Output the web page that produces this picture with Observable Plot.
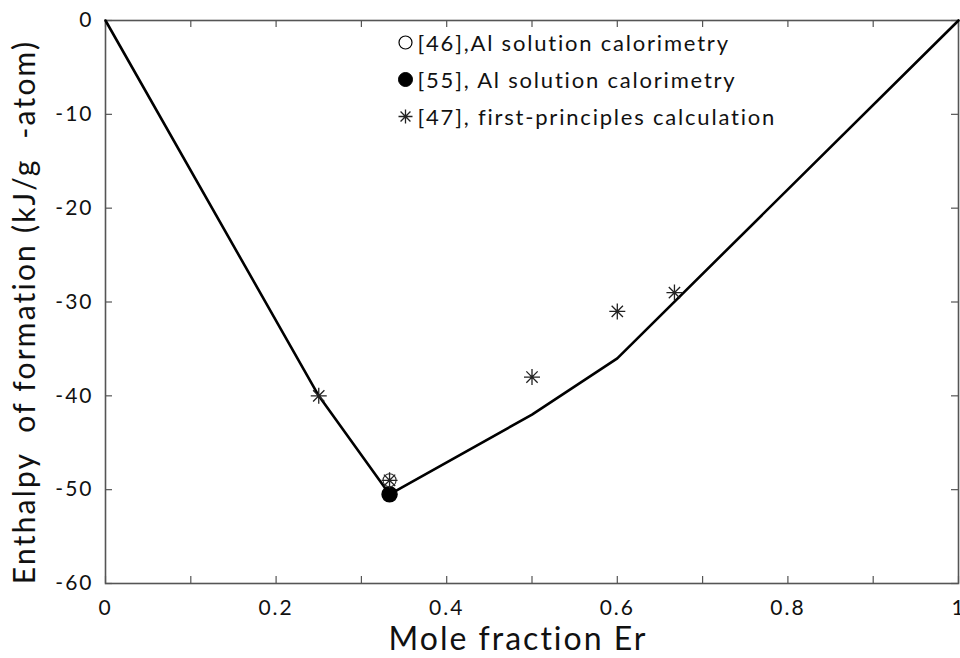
<!DOCTYPE html>
<html>
<head>
<meta charset="utf-8">
<script src="https://cdn.jsdelivr.net/npm/d3@7"></script>
<script src="https://cdn.jsdelivr.net/npm/@observablehq/plot@0.6"></script>
<style>
  html, body { margin: 0; padding: 0; background: #fff; }
  #chart { width: 960px; height: 658px; overflow: hidden; }
  #chart svg text { letter-spacing: 2px; }
</style>
</head>
<body>
<div id="chart"></div>
<script>
// ---- data ----
const xTicks = [0, 0.1, 0.2, 0.3, 0.4, 0.5, 0.6, 0.7, 0.8, 0.9, 1];
const xTickLabels = [0, 0.2, 0.4, 0.6, 0.8, 1];
const yTicks = [0, -10, -20, -30, -40, -50, -60];

// calculated curve
const curveX = [0, 0.25, 0.333, 0.5, 0.6, 1];
const curveY = [0, -40, -50.5, -42, -36, 0];

// [46] Al solution calorimetry (open circle)
const ref46X = [0.333];
const ref46Y = [-49];
// [55] Al solution calorimetry (filled circle)
const ref55X = [0.333];
const ref55Y = [-50.5];
// [47] first-principles calculation (asterisk)
const ref47X = [0.25, 0.333, 0.5, 0.6, 0.667];
const ref47Y = [-40, -49, -38, -31, -29];

const legendLabels = [
  "[46],Al solution calorimetry",
  "[55], Al solution calorimetry",
  "[47], first-principles calculation"
];
const xLabel = "Mole fraction Er";
const yLabel = "Enthalpy  of formation (kJ/g  -atom)";

// ---- build ----
const curve = curveX.map((x, i) => ({x, y: curveY[i]}));
const d46 = ref46X.map((x, i) => ({x, y: ref46Y[i]}));
const d55 = ref55X.map((x, i) => ({x, y: ref55Y[i]}));
const d47 = ref47X.map((x, i) => ({x, y: ref47Y[i]}));

// 8-armed asterisk like MATLAB '*'
const star8 = {
  draw(ctx, size) {
    const r = Math.sqrt(size / Math.PI);
    const d = r * Math.SQRT1_2;
    ctx.moveTo(-r, 0); ctx.lineTo(r, 0);
    ctx.moveTo(0, -r); ctx.lineTo(0, r);
    ctx.moveTo(-d, -d); ctx.lineTo(d, d);
    ctx.moveTo(-d, d); ctx.lineTo(d, -d);
  }
};

const W = 960, H = 658;
const mL = 105, mR = 2, mT = 20, mB = 75;
const plotW = W - mL - mR, plotH = H - mT - mB;
const tickLen = 7;
const font = "Lato, 'Open Sans', sans-serif";
const axisColor = "#555";

const legendMarks = [];
const legendSymbols = [
  {symbol: "circle", fill: "white", stroke: "black", r: 6.5, sw: 1.2},
  {symbol: "circle", fill: "black", stroke: "black", r: 7, sw: 1},
  {symbol: star8, fill: "none", stroke: "#222", r: 7, sw: 1.3}
];
legendLabels.forEach((lab, i) => {
  const s = legendSymbols[i];
  legendMarks.push(Plot.dot([lab], {
    frameAnchor: "top-left", dx: 300, dy: 22 + i * 37,
    symbol: s.symbol, r: s.r, fill: s.fill, stroke: s.stroke, strokeWidth: s.sw
  }));
  legendMarks.push(Plot.text([lab], {
    text: d => d, frameAnchor: "top-left", dx: 312, dy: 23 + i * 37,
    textAnchor: "start", lineAnchor: "middle", fontSize: 22, fill: "#111"
  }));
});

const chart = Plot.plot({
  width: W, height: H,
  marginLeft: mL, marginRight: mR, marginTop: mT, marginBottom: mB,
  style: {fontFamily: font, background: "white", color: "#111"},
  x: {domain: [0, 1]},
  y: {domain: [-60, 0]},
  marks: [
    // inward ticks bottom/top
    Plot.tickX(xTicks, {x: d => d, insetTop: plotH - tickLen, stroke: axisColor, strokeWidth: 1.2}),
    Plot.tickX(xTicks, {x: d => d, insetBottom: plotH - tickLen, stroke: axisColor, strokeWidth: 1.2}),
    // inward ticks left/right
    Plot.tickY(yTicks, {y: d => d, insetRight: plotW - tickLen, stroke: axisColor, strokeWidth: 1.2}),
    Plot.tickY(yTicks, {y: d => d, insetLeft: plotW - tickLen, stroke: axisColor, strokeWidth: 1.2}),
    Plot.frame({stroke: axisColor, strokeWidth: 1.6}),
    Plot.axisX({ticks: xTickLabels, tickSize: 0, tickPadding: 17, fontSize: 21, label: null, tickFormat: d => String(d)}),
    Plot.axisY({ticks: yTicks, tickSize: 0, tickPadding: 12, fontSize: 21, label: null, tickFormat: d => String(d)}),
    // curve
    Plot.line(curve, {x: "x", y: "y", stroke: "black", strokeWidth: 2.6}),
    // data points
    Plot.dot(d55, {x: "x", y: "y", r: 7.5, fill: "black", stroke: "black"}),
    Plot.dot(d46, {x: "x", y: "y", r: 6.5, fill: "none", stroke: "#333", strokeWidth: 1.1}),
    Plot.dot(d47, {x: "x", y: "y", symbol: star8, r: 8, stroke: "#222", strokeWidth: 1.3, fill: "none"}),
    ...legendMarks,
    // axis titles
    Plot.text([xLabel], {text: d => d, frameAnchor: "bottom", dx: -14, dy: 56, textAnchor: "middle", lineAnchor: "middle", fontSize: 32, fill: "#111"}),
    Plot.text([yLabel], {text: d => d, frameAnchor: "left", dx: -80, dy: 10, rotate: -90, textAnchor: "middle", lineAnchor: "middle", fontSize: 30, fill: "#111"})
  ]
});
d3.select(chart).selectAll("text")
  .filter(function() { return this.textContent === xLabel; })
  .style("letter-spacing", "2px");
d3.select(chart).selectAll("text")
  .filter(function() { return this.textContent === yLabel; })
  .style("letter-spacing", "2.2px");
d3.select(chart).selectAll("text")
  .filter(function() { return legendLabels.includes(this.textContent); })
  .style("letter-spacing", "1.8px");
document.getElementById("chart").appendChild(chart);
</script>
</body>
</html>
